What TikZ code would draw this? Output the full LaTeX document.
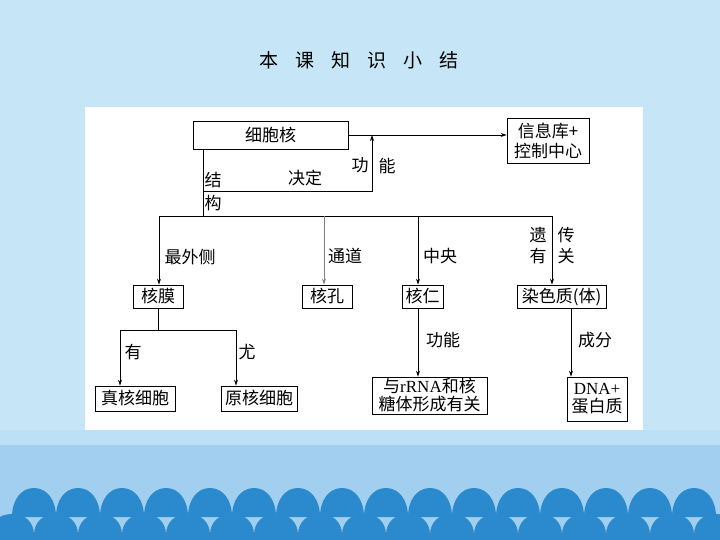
\documentclass[tikz,border=0pt]{standalone}
\usepackage{fontspec}
\setmainfont{Noto Sans CJK SC}
\newfontfamily\latin{Liberation Serif}
\usetikzlibrary{arrows.meta}
\definecolor{sky}{HTML}{C6E6F8}
\definecolor{strip}{HTML}{BCE1F6}
\definecolor{band}{HTML}{A2CFF0}
\definecolor{wave}{HTML}{2B89CD}

\begin{document}
\begin{tikzpicture}[x=1pt, y=-1pt, font=\fontsize{17}{18}\selectfont,
    kbox/.style={draw, line width=0.8pt, fill=white, inner sep=1pt, align=center},
    link/.style={line width=0.8pt},
    tip/.style={link, -{Stealth[length=6pt,width=4pt]}},
    lbl/.style={inner sep=0pt}]
    \useasboundingbox (0,0) rectangle (720,540);
    \begin{scope}
    \clip (0,0) rectangle (720,540);
    \fill[sky] (0,0) rectangle (720,540);
    \fill[strip] (0,430) rectangle (720,445);
    \fill[band] (0,445) rectangle (720,540);
    \foreach \c in {12,56,...,716}
        \fill[wave] (\c-22,545) -- (\c-22,535) .. controls (\c-22,522) and (\c-13,514) .. (\c,514)
            .. controls (\c+13,514) and (\c+22,522) .. (\c+22,535) -- (\c+22,545) -- cycle;
    \foreach \c in {34,78,...,694}
        \fill[wave] (\c-22,517) .. controls (\c-22,500) and (\c-13,488) .. (\c,488)
            .. controls (\c+13,488) and (\c+22,500) .. (\c+22,517) -- cycle;
    \end{scope}
    \fill[white] (85,107) rectangle (643,430);
    \node (title) at (359,60) {\fontsize{19}{20}\selectfont 本\hspace{17pt}课\hspace{17pt}知\hspace{17pt}识\hspace{17pt}小\hspace{17pt}结};

    \node[kbox, minimum width=155, minimum height=28] (nucleus) at (270.5,135) {细胞核};
    \node[kbox, minimum width=82, minimum height=45, font=\fontsize{17}{20}\selectfont] (store) at (548,140.5) {信息库+\\控制中心};
    \node[kbox, minimum width=50, minimum height=23] (hemo) at (158,296.5) {核膜};
    \node[kbox, minimum width=50, minimum height=23] (pore) at (327,296.5) {核孔};
    \node[kbox, minimum width=41, minimum height=23] (nucleolus) at (422.5,296.5) {核仁};
    \node[kbox, minimum width=89, minimum height=23] (chromatin) at (561.5,296.5) {染色质(体)};
    \node[kbox, minimum width=80, minimum height=25] (euk) at (135,398.5) {真核细胞};
    \node[kbox, minimum width=76, minimum height=25] (prok) at (259,398.5) {原核细胞};
    \node[kbox, minimum width=115, minimum height=37] (rrna) at (429.5,395.5) {与{\latin rRNA}和核\\糖体形成有关};
    \node[kbox, minimum width=60, minimum height=44] (dna) at (597,399) {{\latin DNA+}\\蛋白质};

    \coordinate (stemL) at (203,191);
    \coordinate (stemR) at (372,191);
    \coordinate (busL) at (159,216);
    \coordinate (busR) at (552,216);
    \coordinate (poreX) at (324,216);
    \coordinate (nucleoX) at (418,216);
    \coordinate (chromX) at (571,308);
    \coordinate (forkL) at (120,330);
    \coordinate (forkR) at (236,330);

    \draw[tip] (nucleus.east) -- (nucleus.east -| store.west);
    \draw[link] (nucleus.south -| stemL) -- (stemL |- busL);
    \draw[tip] (stemL) -- (stemR) -- (stemR |- nucleus.east);
    \draw[link] (busL) -- (busR);
    \draw[tip] (busL) -- (busL |- hemo.north);
    \draw[tip, gray] (poreX) -- (poreX |- pore.north);
    \draw[tip] (nucleoX) -- (nucleoX |- nucleolus.north);
    \draw[tip] (busR) -- (busR |- chromatin.north);
    \draw[link] (hemo.south) -- (hemo.south |- forkL);
    \draw[link] (forkL) -- (forkR);
    \draw[tip] (forkL) -- (forkL |- euk.north);
    \draw[tip] (forkR) -- (forkR |- prok.north);
    \draw[tip] (nucleoX |- nucleolus.south) -- (nucleoX |- rrna.north);
    \draw[tip] (chromX) -- (chromX |- dna.north);

    \node[lbl] (jie) at (213,180) {结};
    \node[lbl] (gou) at (213,203) {构};
    \node[lbl] (decide) at (305,178) {决定};
    \node[lbl] (gong) at (360,165) {功};
    \node[lbl] (neng) at (387,166) {能};
    \node[lbl] (outer) at (190,257) {最外侧};
    \node[lbl] (channel) at (345,256) {通道};
    \node[lbl] (centre) at (440,256) {中央};
    \node[lbl] (yi) at (538,235) {遗};
    \node[lbl] (you) at (538,256) {有};
    \node[lbl] (chuan) at (566,235) {传};
    \node[lbl] (guan) at (566,256) {关};
    \node[lbl] (with) at (133,352) {有};
    \node[lbl] (without) at (247,352) {尤};
    \node[lbl] (role) at (443,340) {功能};
    \node[lbl] (part) at (595,340) {成分};
\end{tikzpicture}
\end{document}
